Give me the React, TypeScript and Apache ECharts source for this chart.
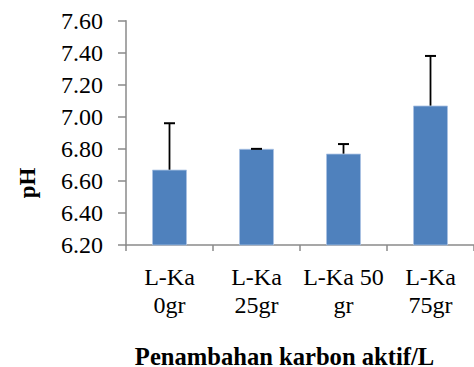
import React, { useEffect, useRef } from "react";
import * as echarts from "echarts";

const categories = ["L-Ka\n0gr", "L-Ka\n25gr", "L-Ka 50\ngr", "L-Ka\n75gr"];
const phValues = [6.67, 6.8, 6.77, 7.07];
const errorTops = [6.96, 6.8, 6.83, 7.38];
const yTicks = { min: 6.2, max: 7.6, interval: 0.2 };

export default function App() {
  const ref = useRef<HTMLDivElement>(null);
  useEffect(() => {
    if (!ref.current) return;
    const chart = echarts.init(ref.current, null, { renderer: "svg" });
    const font = "Liberation Serif";
    chart.setOption({
      animation: false,
      grid: { left: 126, top: 20.7, width: 360, height: 224.3, containLabel: false },
      xAxis: {
        type: "category",
        data: categories,
        axisLine: { lineStyle: { color: "#8a8a8a", width: 1.5 } },
        axisTick: { show: true, length: 6, alignWithLabel: false, lineStyle: { color: "#8a8a8a", width: 1.5 } },
        axisLabel: {
          color: "#000",
          fontFamily: font,
          fontSize: 24,
          lineHeight: 28,
          margin: 18,
          interval: 0,
        },
        splitLine: { show: false },
      },
      yAxis: {
        type: "value",
        min: yTicks.min,
        max: yTicks.max,
        interval: yTicks.interval,
        axisLine: { show: true, lineStyle: { color: "#8a8a8a", width: 1.5 } },
        axisTick: { show: true, length: 8, lineStyle: { color: "#8a8a8a", width: 1.5 } },
        axisLabel: {
          color: "#000",
          fontFamily: font,
          fontSize: 24,
          margin: 23,
          formatter: (v: number) => v.toFixed(2),
        },
        splitLine: { show: false },
      },
      series: [
        {
          type: "bar",
          data: phValues,
          barWidth: "40%",
          itemStyle: { color: "#4f81bd", borderColor: "#a9c2e3", borderWidth: 0.8 },
          z: 2,
        },
        {
          type: "custom",
          data: phValues.map((v, i) => [i, v, errorTops[i]]),
          z: 3,
          renderItem: (params: any, api: any) => {
            const i = api.value(0);
            const low = api.coord([i, api.value(1)]);
            const high = api.coord([i, api.value(2)]);
            const half = 5.5;
            return {
              type: "group",
              children: [
                {
                  type: "line",
                  shape: { x1: low[0], y1: low[1], x2: high[0], y2: high[1] },
                  style: { stroke: "#000", lineWidth: 1.8 },
                },
                {
                  type: "line",
                  shape: { x1: high[0] - half, y1: high[1], x2: high[0] + half, y2: high[1] },
                  style: { stroke: "#000", lineWidth: 2 },
                },
              ],
            };
          },
        },
      ],
      graphic: [
        {
          type: "text",
          x: 27,
          y: 183,
          rotation: Math.PI / 2,
          style: {
            text: "pH",
            fontFamily: font,
            fontSize: 23,
            fontWeight: "bold",
            fill: "#000",
            align: "center",
            verticalAlign: "middle",
          },
        },
        {
          type: "text",
          x: 284.5,
          y: 356.5,
          style: {
            text: "Penambahan karbon aktif/L",
            fontFamily: font,
            fontSize: 24.6,
            fontWeight: "bold",
            fill: "#000",
            align: "center",
            verticalAlign: "middle",
          },
        },
      ],
    });
    return () => chart.dispose();
  }, []);
  return (
    <div
      ref={ref}
      style={{ position: "fixed", left: 0, top: 0, width: 474, height: 367, background: "#fff" }}
    />
  );
}
